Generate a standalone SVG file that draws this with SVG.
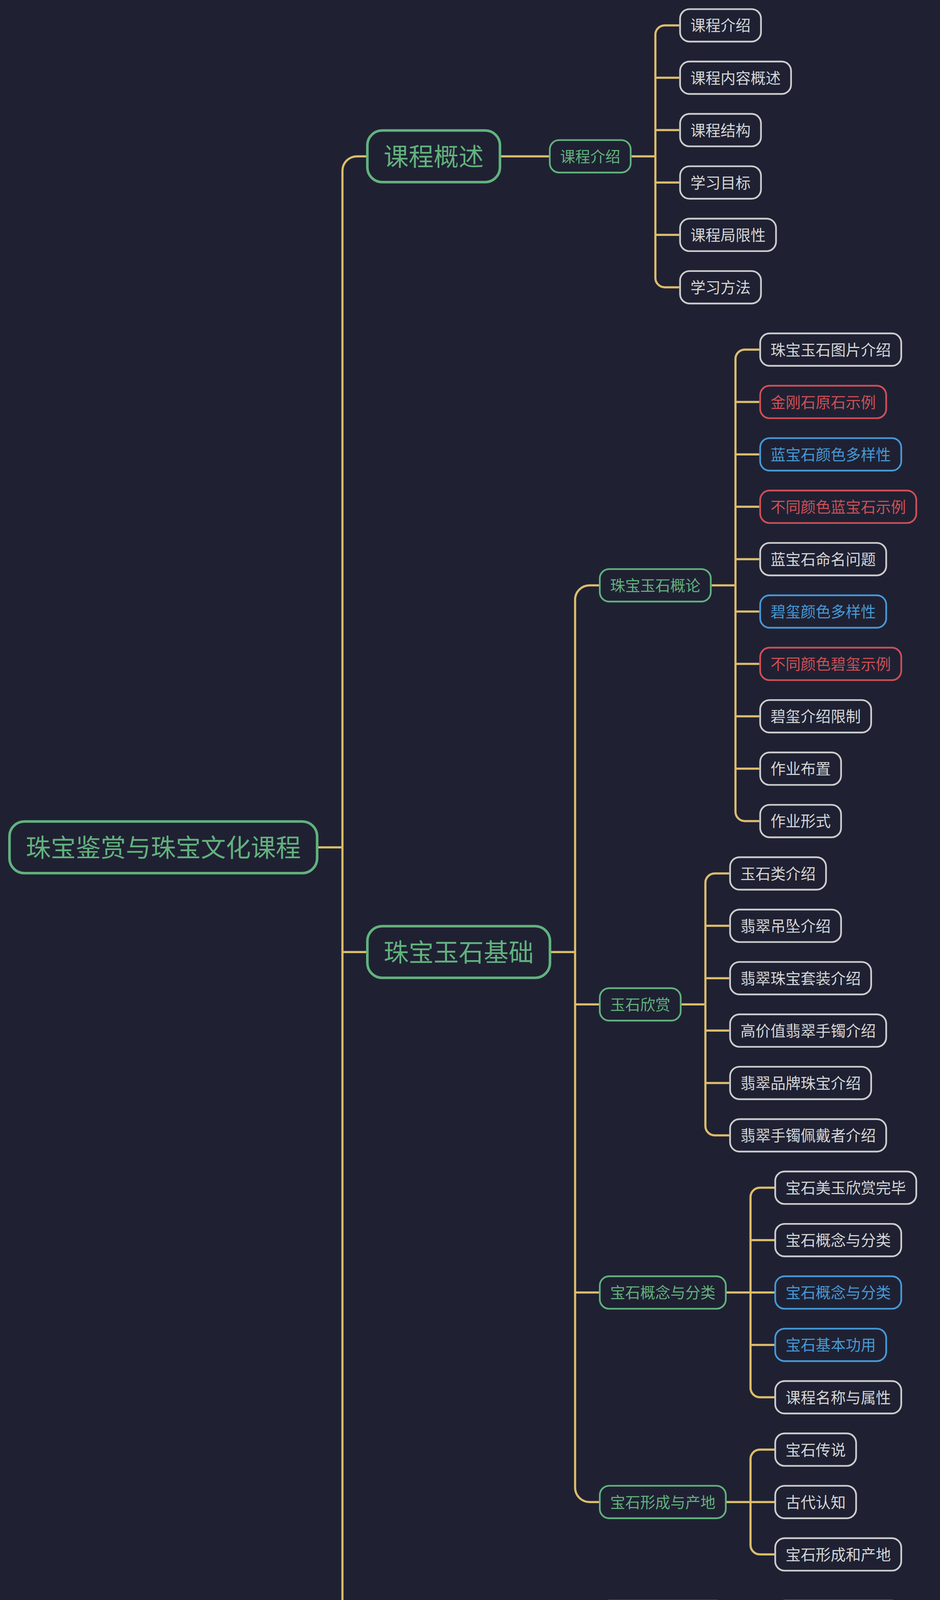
<svg xmlns="http://www.w3.org/2000/svg" width="2406" height="4338" viewBox="0 0 2406 4338">
<style>
.c path{fill:none;stroke:#dcbd6a;stroke-width:5.5}
.s rect{stroke-width:4.4;fill:#1f2133}
.b rect{stroke-width:6.6;fill:#1f2133}
text{font-family:"Noto Sans CJK SC","Noto Sans",sans-serif;text-anchor:middle}
.s text{font-size:38.5px}
.b text{font-size:64px}
.g rect{stroke:#62b27d}.g text{fill:#62b27d}
.w rect{stroke:#cccccc}.w text{fill:#d6d6d6}
.r rect{stroke:#cf4f55}.r text{fill:#cf4f55}
.u rect{stroke:#4699d6}.u text{fill:#4699d6}
</style>
<rect x="0" y="0" width="2406" height="4338" fill="#1f2133"/>
<g id="connectors" class="c">
<path d="M815,2169.15 H876.5"/>
<path d="M876.5,2169.15 V437.15 A37,37 0 0 1 913.5,400.15 H937"/>
<path d="M876.5,2169.15 V4169.35 A37,37 0 0 0 913.5,4206.35 H937"/>
<path d="M876.5,2437.15 H937"/>
<path d="M1283,400.15 H1405"/>
<path d="M1616.5,400.15 H1677.5"/>
<path d="M1677.5,400.15 V88.9 A24,24 0 0 1 1701.5,64.9 H1738.5"/>
<path d="M1677.5,400.15 V711.4 A24,24 0 0 0 1701.5,735.4 H1738.5"/>
<path d="M1677.5,199 H1738.5"/>
<path d="M1677.5,333.1 H1738.5"/>
<path d="M1677.5,467.2 H1738.5"/>
<path d="M1677.5,601.3 H1738.5"/>
<path d="M1411,2437.15 H1472"/>
<path d="M1472,2437.15 V1535.45 A37,37 0 0 1 1509,1498.45 H1533"/>
<path d="M1472,2437.15 V3808.2 A37,37 0 0 0 1509,3845.2 H1533"/>
<path d="M1472,2571.25 H1533"/>
<path d="M1472,3308.8 H1533"/>
<path d="M1411,4206.35 H1472"/>
<path d="M1472,4206.35 V4176.3 A37,37 0 0 1 1509,4139.3 H1533"/>
<path d="M1472,4206.35 V4236.4 A37,37 0 0 0 1509,4273.4 H1533"/>
<path d="M1821.5,1498.45 H1882.5"/>
<path d="M1882.5,1498.45 V919 A24,24 0 0 1 1906.5,895 H1943.5"/>
<path d="M1882.5,1498.45 V2077.9 A24,24 0 0 0 1906.5,2101.9 H1943.5"/>
<path d="M1882.5,1029.1 H1943.5"/>
<path d="M1882.5,1163.2 H1943.5"/>
<path d="M1882.5,1297.3 H1943.5"/>
<path d="M1882.5,1431.4 H1943.5"/>
<path d="M1882.5,1565.5 H1943.5"/>
<path d="M1882.5,1699.6 H1943.5"/>
<path d="M1882.5,1833.7 H1943.5"/>
<path d="M1882.5,1967.8 H1943.5"/>
<path d="M1744.5,2571.25 H1805.5"/>
<path d="M1805.5,2571.25 V2260 A24,24 0 0 1 1829.5,2236 H1866.5"/>
<path d="M1805.5,2571.25 V2882.5 A24,24 0 0 0 1829.5,2906.5 H1866.5"/>
<path d="M1805.5,2370.1 H1866.5"/>
<path d="M1805.5,2504.2 H1866.5"/>
<path d="M1805.5,2638.3 H1866.5"/>
<path d="M1805.5,2772.4 H1866.5"/>
<path d="M1860,3308.8 H1921"/>
<path d="M1921,3308.8 V3064.6 A24,24 0 0 1 1945,3040.6 H1982"/>
<path d="M1921,3308.8 V3553 A24,24 0 0 0 1945,3577 H1982"/>
<path d="M1921,3174.7 H1982"/>
<path d="M1921,3308.8 H1982"/>
<path d="M1921,3442.9 H1982"/>
<path d="M1860,3845.2 H1921"/>
<path d="M1921,3845.2 V3735.1 A24,24 0 0 1 1945,3711.1 H1982"/>
<path d="M1921,3845.2 V3955.3 A24,24 0 0 0 1945,3979.3 H1982"/>
<path d="M1921,3845.2 H1982"/>
<path d="M1860,4139.3 H1982"/>
<path d="M1860,4273.4 H1982"/>
</g>
<g id="root" class="b g"><rect x="24.3" y="2103.05" width="787.4" height="132.2" rx="38"/><text x="418" y="2193.15">珠宝鉴赏与珠宝文化课程</text></g>
<g id="n-kcgs" class="b g"><rect x="940.3" y="334.05" width="339.4" height="132.2" rx="38"/><text x="1110" y="424.15">课程概述</text></g>
<g id="n-zbysjc" class="b g"><rect x="940.3" y="2371.05" width="467.4" height="132.2" rx="38"/><text x="1174" y="2461.15">珠宝玉石基础</text></g>
<g id="n-zbhyfz" class="b g"><rect x="940.3" y="4140.25" width="467.4" height="132.2" rx="38"/><text x="1174" y="4230.35">珠宝行业发展</text></g>
<g id="n-kcjs" class="s g"><rect x="1407.2" y="358.6" width="207.1" height="83.1" rx="24"/><text x="1510.75" y="414.65">课程介绍</text></g>
<g id="n-zbysgl" class="s g"><rect x="1535.2" y="1456.9" width="284.1" height="83.1" rx="24"/><text x="1677.25" y="1512.95">珠宝玉石概论</text></g>
<g id="n-ysxs" class="s g"><rect x="1535.2" y="2529.7" width="207.1" height="83.1" rx="24"/><text x="1638.75" y="2585.75">玉石欣赏</text></g>
<g id="n-bsgnfl" class="s g"><rect x="1535.2" y="3267.25" width="322.6" height="83.1" rx="24"/><text x="1696.5" y="3323.3">宝石概念与分类</text></g>
<g id="n-bsxccd" class="s g"><rect x="1535.2" y="3803.65" width="322.6" height="83.1" rx="24"/><text x="1696.5" y="3859.7">宝石形成与产地</text></g>
<g id="n-zbyfzgk" class="s g"><rect x="1535.2" y="4097.75" width="322.6" height="83.1" rx="24"/><text x="1696.5" y="4153.8">珠宝业发展概况</text></g>
<g id="n-bsxjczs" class="s g"><rect x="1535.2" y="4231.85" width="322.6" height="83.1" rx="24"/><text x="1696.5" y="4287.9">宝石学基础知识</text></g>
<g id="a1" class="s w"><rect x="1740.7" y="23.35" width="207.1" height="83.1" rx="24"/><text x="1844.25" y="79.4">课程介绍</text></g>
<g id="a2" class="s w"><rect x="1740.7" y="157.45" width="284.1" height="83.1" rx="24"/><text x="1882.75" y="213.5">课程内容概述</text></g>
<g id="a3" class="s w"><rect x="1740.7" y="291.55" width="207.1" height="83.1" rx="24"/><text x="1844.25" y="347.6">课程结构</text></g>
<g id="a4" class="s w"><rect x="1740.7" y="425.65" width="207.1" height="83.1" rx="24"/><text x="1844.25" y="481.7">学习目标</text></g>
<g id="a5" class="s w"><rect x="1740.7" y="559.75" width="245.6" height="83.1" rx="24"/><text x="1863.5" y="615.8">课程局限性</text></g>
<g id="a6" class="s w"><rect x="1740.7" y="693.85" width="207.1" height="83.1" rx="24"/><text x="1844.25" y="749.9">学习方法</text></g>
<g id="b0" class="s w"><rect x="1945.7" y="853.45" width="361.1" height="83.1" rx="24"/><text x="2126.25" y="909.5">珠宝玉石图片介绍</text></g>
<g id="b1" class="s r"><rect x="1945.7" y="987.55" width="322.6" height="83.1" rx="24"/><text x="2107" y="1043.6">金刚石原石示例</text></g>
<g id="b2" class="s u"><rect x="1945.7" y="1121.65" width="361.1" height="83.1" rx="24"/><text x="2126.25" y="1177.7">蓝宝石颜色多样性</text></g>
<g id="b3" class="s r"><rect x="1945.7" y="1255.75" width="399.6" height="83.1" rx="24"/><text x="2145.5" y="1311.8">不同颜色蓝宝石示例</text></g>
<g id="b4" class="s w"><rect x="1945.7" y="1389.85" width="322.6" height="83.1" rx="24"/><text x="2107" y="1445.9">蓝宝石命名问题</text></g>
<g id="b5" class="s u"><rect x="1945.7" y="1523.95" width="322.6" height="83.1" rx="24"/><text x="2107" y="1580">碧玺颜色多样性</text></g>
<g id="b6" class="s r"><rect x="1945.7" y="1658.05" width="361.1" height="83.1" rx="24"/><text x="2126.25" y="1714.1">不同颜色碧玺示例</text></g>
<g id="b7" class="s w"><rect x="1945.7" y="1792.15" width="284.1" height="83.1" rx="24"/><text x="2087.75" y="1848.2">碧玺介绍限制</text></g>
<g id="b8" class="s w"><rect x="1945.7" y="1926.25" width="207.1" height="83.1" rx="24"/><text x="2049.25" y="1982.3">作业布置</text></g>
<g id="b9" class="s w"><rect x="1945.7" y="2060.35" width="207.1" height="83.1" rx="24"/><text x="2049.25" y="2116.4">作业形式</text></g>
<g id="b10" class="s w"><rect x="1868.7" y="2194.45" width="245.6" height="83.1" rx="24"/><text x="1991.5" y="2250.5">玉石类介绍</text></g>
<g id="b11" class="s w"><rect x="1868.7" y="2328.55" width="284.1" height="83.1" rx="24"/><text x="2010.75" y="2384.6">翡翠吊坠介绍</text></g>
<g id="b12" class="s w"><rect x="1868.7" y="2462.65" width="361.1" height="83.1" rx="24"/><text x="2049.25" y="2518.7">翡翠珠宝套装介绍</text></g>
<g id="b13" class="s w"><rect x="1868.7" y="2596.75" width="399.6" height="83.1" rx="24"/><text x="2068.5" y="2652.8">高价值翡翠手镯介绍</text></g>
<g id="b14" class="s w"><rect x="1868.7" y="2730.85" width="361.1" height="83.1" rx="24"/><text x="2049.25" y="2786.9">翡翠品牌珠宝介绍</text></g>
<g id="b15" class="s w"><rect x="1868.7" y="2864.95" width="399.6" height="83.1" rx="24"/><text x="2068.5" y="2921">翡翠手镯佩戴者介绍</text></g>
<g id="b16" class="s w"><rect x="1984.2" y="2999.05" width="361.1" height="83.1" rx="24"/><text x="2164.75" y="3055.1">宝石美玉欣赏完毕</text></g>
<g id="b17" class="s w"><rect x="1984.2" y="3133.15" width="322.6" height="83.1" rx="24"/><text x="2145.5" y="3189.2">宝石概念与分类</text></g>
<g id="b18" class="s u"><rect x="1984.2" y="3267.25" width="322.6" height="83.1" rx="24"/><text x="2145.5" y="3323.3">宝石概念与分类</text></g>
<g id="b19" class="s u"><rect x="1984.2" y="3401.35" width="284.1" height="83.1" rx="24"/><text x="2126.25" y="3457.4">宝石基本功用</text></g>
<g id="b20" class="s w"><rect x="1984.2" y="3535.45" width="322.6" height="83.1" rx="24"/><text x="2145.5" y="3591.5">课程名称与属性</text></g>
<g id="b21" class="s w"><rect x="1984.2" y="3669.55" width="207.1" height="83.1" rx="24"/><text x="2087.75" y="3725.6">宝石传说</text></g>
<g id="b22" class="s w"><rect x="1984.2" y="3803.65" width="207.1" height="83.1" rx="24"/><text x="2087.75" y="3859.7">古代认知</text></g>
<g id="b23" class="s w"><rect x="1984.2" y="3937.75" width="322.6" height="83.1" rx="24"/><text x="2145.5" y="3993.8">宝石形成和产地</text></g>
<g id="c1" class="s w"><rect x="1984.2" y="4097.75" width="322.6" height="83.1" rx="24"/><text x="2145.5" y="4153.8">珠宝业发展介绍</text></g>
<g id="c2" class="s w"><rect x="1984.2" y="4231.85" width="399.6" height="83.1" rx="24"/><text x="2184" y="4287.9">宝石学基础知识介绍</text></g>
</svg>
